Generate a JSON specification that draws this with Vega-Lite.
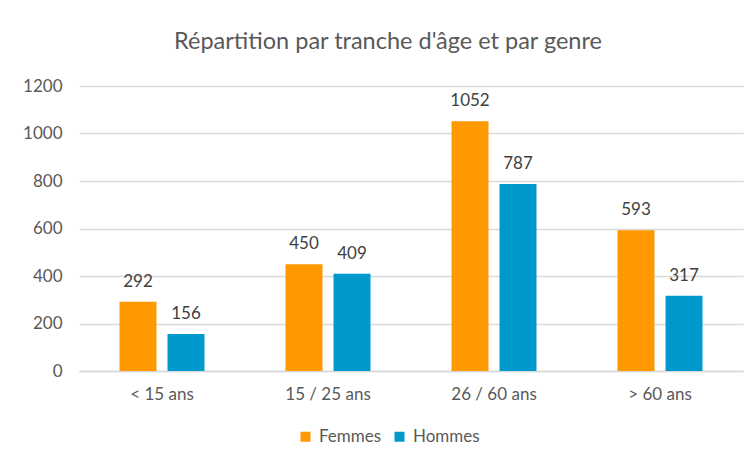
{
  "$schema": "https://vega.github.io/schema/vega-lite/v6.json",
  "width": 664,
  "height": 285,
  "autosize": {"type": "none"},
  "padding": {"left": 79, "top": 86, "right": 10, "bottom": 88},
  "background": "white",
  "title": {
    "text": "Répartition par tranche d'âge et par genre",
    "font": "Lato",
    "fontSize": 23.5,
    "fontWeight": "normal",
    "color": "#595959",
    "anchor": "middle",
    "dx": -23,
    "offset": 24
  },
  "data": {
    "values": [
      {"age": "< 15 ans", "genre": "Femmes", "n": 292},
      {"age": "< 15 ans", "genre": "Hommes", "n": 156},
      {"age": "15 / 25 ans", "genre": "Femmes", "n": 450},
      {"age": "15 / 25 ans", "genre": "Hommes", "n": 409},
      {"age": "26 / 60 ans", "genre": "Femmes", "n": 1052},
      {"age": "26 / 60 ans", "genre": "Hommes", "n": 787},
      {"age": "> 60 ans", "genre": "Femmes", "n": 593},
      {"age": "> 60 ans", "genre": "Hommes", "n": 317}
    ]
  },
  "encoding": {
    "x": {
      "field": "age",
      "type": "nominal",
      "sort": null,
      "scale": {"paddingInner": 0.488, "paddingOuter": 0.244},
      "axis": {
        "title": null,
        "labelAngle": 0,
        "labelFont": "Lato",
        "labelFontSize": 17,
        "labelColor": "#595959",
        "labelPadding": 15,
        "ticks": false,
        "domainColor": "#D9D9D9",
        "domainWidth": 1.5,
        "grid": false
      }
    },
    "xOffset": {
      "field": "genre",
      "type": "nominal",
      "scale": {"paddingInner": 0.23, "paddingOuter": 0}
    },
    "y": {
      "field": "n",
      "type": "quantitative",
      "scale": {"domain": [0, 1200]},
      "axis": {
        "title": null,
        "format": "d",
        "values": [0, 200, 400, 600, 800, 1000, 1200],
        "labelFont": "Lato",
        "labelFontSize": 17,
        "labelColor": "#595959",
        "labelPadding": 17,
        "ticks": false,
        "domain": false,
        "gridColor": "#D9D9D9",
        "gridWidth": 1.5
      }
    }
  },
  "layer": [
    {
      "mark": {"type": "bar"},
      "encoding": {
        "color": {
          "field": "genre",
          "type": "nominal",
          "scale": {"domain": ["Femmes", "Hommes"], "range": ["#FF9900", "#0099CC"]},
          "legend": {
            "title": null,
            "orient": "none",
            "legendX": 218,
            "legendY": 342,
            "direction": "horizontal",
            "symbolType": "square",
            "symbolSize": 100,
            "symbolStrokeWidth": 0,
            "labelFont": "Lato",
            "labelFontSize": 17,
            "labelColor": "#595959",
            "labelOffset": 5,
            "columnPadding": 9
          }
        }
      }
    },
    {
      "mark": {"type": "text", "baseline": "bottom", "dy": -11, "font": "Lato", "fontSize": 17, "color": "#404040"},
      "encoding": {
        "text": {"field": "n", "type": "quantitative"}
      }
    }
  ],
  "config": {"view": {"stroke": null}}
}
